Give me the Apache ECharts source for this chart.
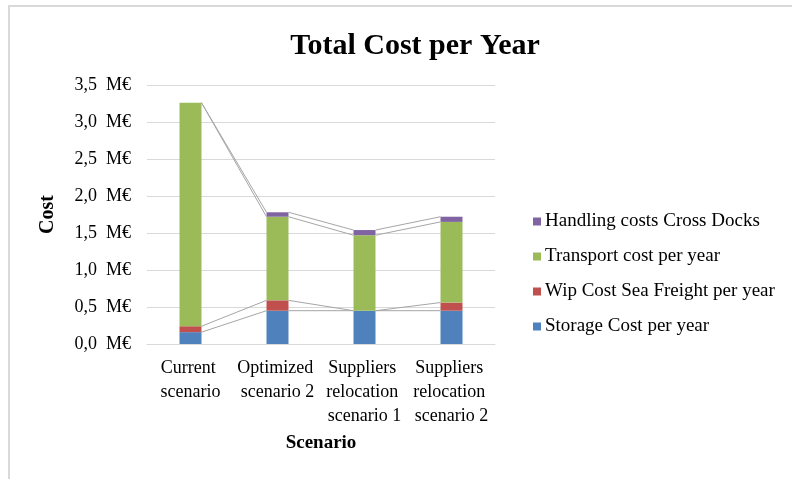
<!DOCTYPE html>
<html>
<head>
<meta charset="utf-8">
<script src="https://cdn.jsdelivr.net/npm/echarts@6/dist/echarts.min.js"></script>
<style>
  html, body { margin: 0; padding: 0; background: #fff; }
  #frame { position: absolute; left: 0; top: 0; width: 792px; height: 479px; }
  #chart { width: 792px; height: 479px; }
  #frame:before { content: ''; position: absolute; left: 8px; top: 5px; right: 0; bottom: 0;
    border-left: 2px solid #d9d9d9; border-top: 2px solid #d9d9d9; pointer-events: none; z-index: 2; }
</style>
</head>
<body>
<div id="frame"><div id="chart"></div></div>
<script>
// Scenarios compared on the category axis
const scenarios = [
  'Current scenario',
  'Optimized scenario 2',
  'Suppliers relocation scenario 1',
  'Suppliers relocation scenario 2'
];

// Yearly cost components, in millions of euros (stacked bottom to top)
const storageCost   = [0.16, 0.45, 0.45, 0.45];
const wipSeaFreight = [0.08, 0.14, 0.00, 0.11];
const transportCost = [3.02, 1.13, 1.02, 1.09];
const handlingCross = [0.00, 0.06, 0.07, 0.07];

const seriesNames = [
  'Storage Cost per year',
  'Wip Cost Sea Freight per year',
  'Transport cost per year',
  'Handling costs Cross Docks'
];
const seriesColors = ['#4f81bd', '#c0504d', '#9bbb59', '#8064a2'];
const stackData = [storageCost, wipSeaFreight, transportCost, handlingCross];

// Y-axis ticks
const yMin = 0, yMax = 3.5, yStep = 0.5;

const BAR_W = 22;
const serif = '"Liberation Serif", "Times New Roman", serif';

// Connector ("series lines") between the tops of each stacked segment
const connectors = [];
for (let i = 0; i < scenarios.length - 1; i++) {
  let a = 0, b = 0;
  for (let k = 0; k < stackData.length; k++) {
    a += stackData[k][i];
    b += stackData[k][i + 1];
    connectors.push([i, a, b]);
  }
}

const chart = echarts.init(document.getElementById('chart'), null, { renderer: 'canvas' });

const barSeries = seriesNames.map((name, k) => ({
  name: name,
  type: 'bar',
  stack: 'total',
  barWidth: BAR_W,
  data: stackData[k],
  itemStyle: { color: seriesColors[k] },
  emphasis: { disabled: true }
}));

chart.setOption({
  animation: false,
  backgroundColor: '#ffffff',
  textStyle: { fontFamily: serif },
  title: {
    text: 'Total Cost per Year',
    left: 410,
    textAlign: 'center',
    top: 26,
    textStyle: { fontFamily: serif, fontSize: 30, fontWeight: 'bold', color: '#000' }
  },
  legend: {
    orient: 'vertical',
    left: 528,
    top: 207,
    itemWidth: 8,
    itemHeight: 8,
    itemGap: 16,
    icon: 'rect',
    data: seriesNames.slice().reverse(),
    textStyle: { fontFamily: serif, fontSize: 19, color: '#000', lineHeight: 19, padding: [0, 0, 0, -1] }
  },
  grid: { left: 147, right: 297, top: 85, bottom: 135 },
  xAxis: {
    type: 'category',
    data: scenarios,
    name: 'Scenario',
    nameLocation: 'middle',
    nameGap: 90,
    nameTextStyle: { fontFamily: serif, fontSize: 19, fontWeight: 'bold', color: '#000' },
    axisLine: { lineStyle: { color: '#d9d9d9', width: 1 } },
    axisTick: { show: false },
    axisLabel: {
      interval: 0,
      margin: 12,
      fontFamily: serif,
      fontSize: 18,
      lineHeight: 24,
      color: '#000',
      width: 86,
      overflow: 'break'
    }
  },
  yAxis: {
    type: 'value',
    min: yMin,
    max: yMax,
    interval: yStep,
    name: 'Cost',
    nameLocation: 'middle',
    nameGap: 89,
    nameTextStyle: { fontFamily: serif, fontSize: 20, fontWeight: 'bold', color: '#000' },
    axisLine: { show: false },
    axisTick: { show: false },
    splitLine: { lineStyle: { color: '#d9d9d9', width: 1 } },
    axisLabel: {
      margin: 16,
      fontFamily: serif,
      fontSize: 18,
      color: '#000',
      formatter: v => v.toFixed(1).replace('.', ',') + '  M€'
    }
  },
  series: barSeries.concat([{
    name: 'series lines',
    type: 'custom',
    silent: true,
    z: 3,
    data: connectors,
    renderItem: (params, api) => {
      const i = api.value(0);
      const p0 = api.coord([i, api.value(1)]);
      const p1 = api.coord([i + 1, api.value(2)]);
      return {
        type: 'line',
        shape: { x1: p0[0] + BAR_W / 2, y1: p0[1], x2: p1[0] - BAR_W / 2, y2: p1[1] },
        style: { stroke: '#a6a6a6', lineWidth: 1 }
      };
    }
  }])
});
</script>
</body>
</html>
